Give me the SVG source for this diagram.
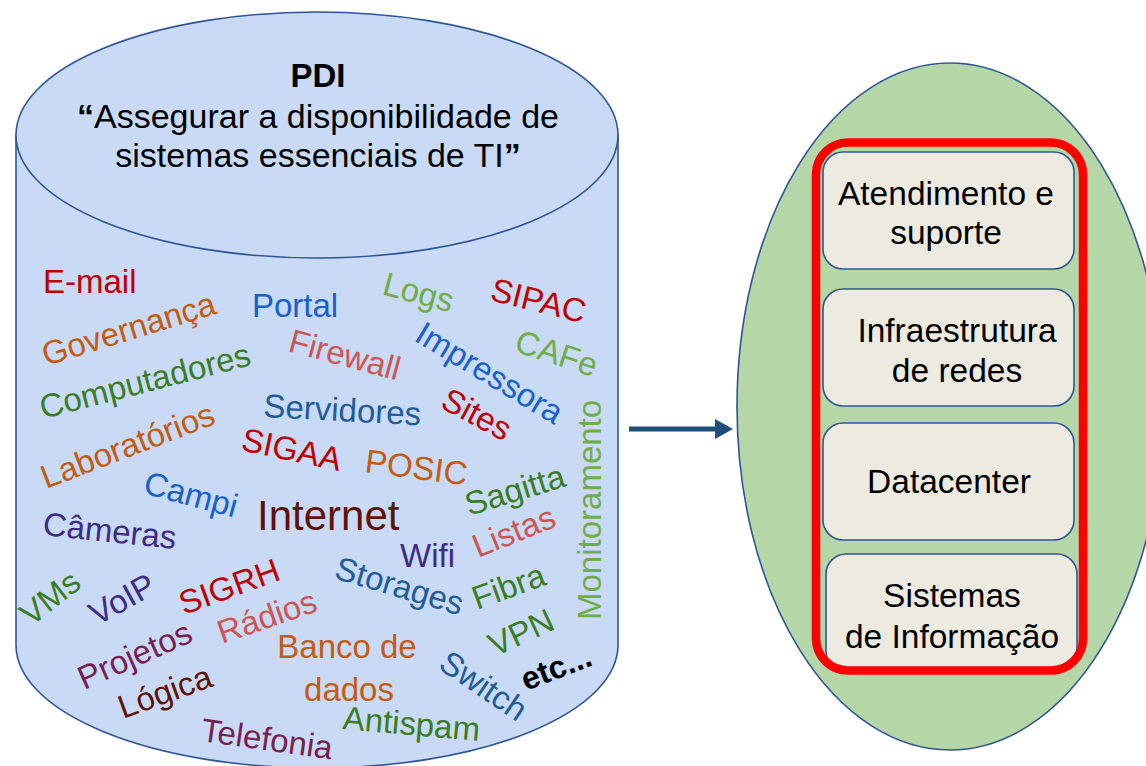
<svg xmlns="http://www.w3.org/2000/svg" width="1146" height="766" viewBox="0 0 1146 766">
<defs>
<style>
text{font-family:"Liberation Sans",Arial,sans-serif;}
.w{font-size:33px;}
.red{fill:#C00000;}
.org{fill:#C55A11;}
.blu{fill:#1A5FCC;}
.dgr{fill:#3A7D22;}
.lgr{fill:#70AD47;}
.ros{fill:#CF5552;}
.dbl{fill:#1F5C99;}
.pur{fill:#3F2A86;}
.mar{fill:#7A1E50;}
.brn{fill:#5E1208;}
.box{fill:#EDEBE0;stroke:#2F5597;stroke-width:1.6;}
.bt{font-size:33.5px;fill:#000;text-anchor:middle;}
</style>
<marker id="arrowhead" markerUnits="userSpaceOnUse" markerWidth="19" markerHeight="22" refX="0" refY="11" orient="auto">
<path d="M0,1 L18,11 L0,21 Z" fill="#1F4E79"/>
</marker>
</defs>

<g id="pdi-cylinder">
<path d="M16,135 L16,645 A301,123 0 0 0 618,645 L618,135 Z" fill="#C8DAF5" stroke="#2F5597" stroke-width="1.6"/>
<ellipse cx="317" cy="135" rx="301" ry="123" fill="#C8DAF5" stroke="#2F5597" stroke-width="1.6"/>
<text x="318" y="87" font-size="33" font-weight="bold" text-anchor="middle" fill="#000">PDI</text>
<text x="318" y="128" font-size="34" text-anchor="middle" fill="#000"><tspan font-weight="bold">“</tspan>Assegurar a disponibilidade de</text>
<text x="318" y="167" font-size="34" text-anchor="middle" fill="#000">sistemas essenciais de TI<tspan font-weight="bold">”</tspan></text>
</g>

<g id="word-cloud">
<text class="w red" x="43" y="293">E-mail</text>
<text class="w org" transform="translate(46,366) rotate(-17)">Governança</text>
<text class="w blu" x="252" y="317">Portal</text>
<text class="w lgr" transform="translate(381,294) rotate(15)">Logs</text>
<text class="w red" transform="translate(489,300) rotate(14)">SIPAC</text>
<text class="w ros" transform="translate(287,351) rotate(15)">Firewall</text>
<text class="w blu" transform="translate(413,340) rotate(31)">Impressora</text>
<text class="w lgr" transform="translate(513,351) rotate(18)">CAFe</text>
<text class="w dgr" transform="translate(43,419) rotate(-14.5)" font-size="33.5">Computadores</text>
<text class="w org" transform="translate(46,489) rotate(-21)" font-size="33.5">Laboratórios</text>
<text class="w dbl" transform="translate(263,417) rotate(3)">Servidores</text>
<text class="w red" transform="translate(439,407) rotate(28)">Sites</text>
<text class="w red" transform="translate(240,450) rotate(12)">SIGAA</text>
<text class="w org" transform="translate(364,472) rotate(7.5)">POSIC</text>
<text class="w lgr" transform="translate(601,620) rotate(-90)">Monitoramento</text>
<text class="w dgr" transform="translate(469,516) rotate(-17)">Sagitta</text>
<text class="w blu" transform="translate(142,493) rotate(15)">Campi</text>
<text class="brn" x="257" y="530" font-size="42">Internet</text>
<text class="w pur" transform="translate(42,535) rotate(6)">Câmeras</text>
<text class="w ros" transform="translate(478,558) rotate(-22)">Listas</text>
<text class="w pur" x="400" y="567">Wifi</text>
<text class="w dbl" transform="translate(333,578) rotate(16.5)">Storages</text>
<text class="w dgr" transform="translate(31,627) rotate(-38)">VMs</text>
<text class="w pur" transform="translate(97,626) rotate(-29)">VoIP</text>
<text class="w red" transform="translate(184,615) rotate(-20)">SIGRH</text>
<text class="w ros" transform="translate(222,644) rotate(-19)">Rádios</text>
<text class="w dgr" transform="translate(477,610) rotate(-20)">Fibra</text>
<text class="w dgr" transform="translate(495,657) rotate(-25)">VPN</text>
<text class="w mar" transform="translate(84,690) rotate(-24)">Projetos</text>
<text class="w org" x="347" y="658" text-anchor="middle">Banco de</text>
<text class="w org" x="349" y="701" text-anchor="middle">dados</text>
<text class="w brn" transform="translate(123,719) rotate(-20)">Lógica</text>
<text class="w mar" transform="translate(200,741) rotate(8)">Telefonia</text>
<text class="w dgr" transform="translate(342,729) rotate(5)">Antispam</text>
<text class="w dbl" transform="translate(437,668) rotate(34)">Switch</text>
<text transform="translate(526,691) rotate(-21)" font-size="32" font-weight="bold" fill="#000">etc...</text>
</g>

<g id="ti-ellipse">
<ellipse cx="950" cy="406.5" rx="213" ry="343.5" fill="#B5D7A8" stroke="#2F5597" stroke-width="1.6"/>
</g>

<g id="box-atendimento">
<rect class="box" x="823" y="152" width="251" height="117" rx="20"/>
<text class="bt" x="946" y="205">Atendimento e</text>
<text class="bt" x="946" y="244">suporte</text>
</g>
<g id="box-infraestrutura">
<rect class="box" x="823" y="289" width="251" height="117" rx="20"/>
<text class="bt" x="957" y="342">Infraestrutura</text>
<text class="bt" x="957" y="382">de redes</text>
</g>
<g id="box-datacenter">
<rect class="box" x="823" y="423" width="251" height="117" rx="20"/>
<text class="bt" x="949" y="493">Datacenter</text>
</g>
<g id="box-sistemas">
<rect class="box" x="826" y="554" width="251" height="117" rx="20"/>
<text class="bt" x="952" y="607">Sistemas</text>
<text class="bt" x="952" y="648">de Informação</text>
</g>

<g id="red-frame">
<rect x="816" y="142.5" width="267" height="528" rx="32" fill="none" stroke="#FF0000" stroke-width="8.5"/>
</g>

<g id="connectors">
<line x1="629" y1="429" x2="715" y2="429" stroke="#1F4E79" stroke-width="5" marker-end="url(#arrowhead)"/>
</g>
</svg>
